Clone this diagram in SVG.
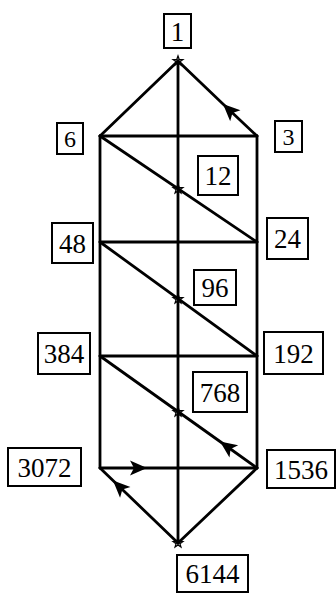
<svg xmlns="http://www.w3.org/2000/svg" width="336" height="593" viewBox="0 0 336 593">
<style>
.e{stroke:#000;stroke-width:2.8;fill:none;stroke-linecap:round;stroke-linejoin:round}
.b{fill:#fff;stroke:#000;stroke-width:2}
.t{font-family:"Liberation Serif","Times New Roman",serif;font-size:27px;fill:#000;text-anchor:middle;dominant-baseline:central}
.s{font-size:24px}
.st{fill:none;stroke:#000;stroke-width:1.3}
</style>
<defs>
<marker id="ah" markerUnits="userSpaceOnUse" markerWidth="22" markerHeight="18" viewBox="-19 -9 21 18" refX="0" refY="0" orient="auto">
<path d="M0,0 L-17,-7.5 L-13,0 L-17,7.5 Z" fill="#000"/>
</marker>
<path id="star" d="M0,-5 L1.2,-1.6 L4.8,-1.5 L1.9,0.6 L2.9,4 L0,2 L-2.9,4 L-1.9,0.6 L-4.8,-1.5 L-1.2,-1.6 Z"/>
</defs>
<g id="connectors">
<path class="e" d="M178,61 L178,543"/>
<path class="e" d="M100,136 L100,468"/>
<path class="e" d="M257,136 L257,468"/>
<path class="e" d="M100,136 L257,136"/>
<path class="e" d="M100,242 L257,242"/>
<path class="e" d="M100,356 L257,356"/>
<path class="e" d="M100,468 L147,468 L257,468" marker-mid="url(#ah)"/>
<path class="e" d="M178,61 L100,136"/>
<path class="e" d="M257,136 L223,104 L178,61" marker-mid="url(#ah)"/>
<path class="e" d="M100,136 L257,242"/>
<path class="e" d="M100,242 L257,356"/>
<path class="e" d="M257,468 L220,441.5 L100,356" marker-mid="url(#ah)"/>
<path class="e" d="M257,468 L178,543"/>
<path class="e" d="M178,543 L113,480.5 L100,468" marker-mid="url(#ah)"/>
<use href="#star" class="st" x="178" y="61"/>
<use href="#star" class="st" x="178" y="189"/>
<use href="#star" class="st" x="178" y="299"/>
<use href="#star" class="st" x="178" y="412"/>
<use href="#star" class="st" x="178" y="543"/>
</g>
<g id="n1"><rect class="b" x="164" y="14" width="27" height="34"/><text class="t" x="177.5" y="32">1</text></g>
<g id="n6"><rect class="b" x="57" y="123" width="26" height="31"/><text class="t s" x="70" y="139">6</text></g>
<g id="n3"><rect class="b" x="275" y="121" width="27" height="31"/><text class="t s" x="288.5" y="137">3</text></g>
<g id="n12"><rect class="b" x="198" y="156" width="40" height="39"/><text class="t" x="218" y="176">12</text></g>
<g id="n48"><rect class="b" x="52" y="223" width="41" height="40"/><text class="t" x="72.5" y="243.5">48</text></g>
<g id="n24"><rect class="b" x="267" y="218" width="41" height="41"/><text class="t" x="287.5" y="239">24</text></g>
<g id="n96"><rect class="b" x="194" y="270" width="42" height="35"/><text class="t" x="215" y="288">96</text></g>
<g id="n384"><rect class="b" x="38" y="333" width="52" height="41"/><text class="t" x="64" y="354">384</text></g>
<g id="n192"><rect class="b" x="264" y="332" width="59" height="42"/><text class="t" x="293.5" y="353.5">192</text></g>
<g id="n768"><rect class="b" x="193" y="372" width="54" height="40"/><text class="t" x="220" y="392.5">768</text></g>
<g id="n3072"><rect class="b" x="8" y="448" width="73" height="38"/><text class="t" x="44.5" y="467.5">3072</text></g>
<g id="n1536"><rect class="b" x="267" y="450" width="68" height="38"/><text class="t" x="301" y="469.5">1536</text></g>
<g id="n6144"><rect class="b" x="177" y="555" width="71" height="37"/><text class="t" x="212.5" y="574">6144</text></g>
</svg>
